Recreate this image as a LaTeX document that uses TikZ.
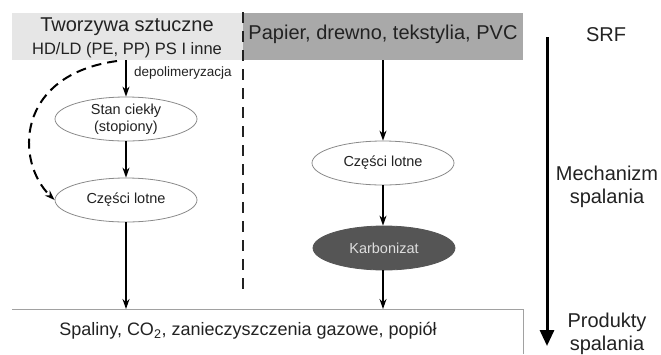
\documentclass[tikz,border=0pt]{standalone}
\usepackage{fontspec}
\setmainfont{Liberation Sans}
\usetikzlibrary{arrows.meta,calc,shapes.geometric}
\definecolor{txt}{HTML}{222222}
\definecolor{lightbox}{HTML}{E6E6E6}
\definecolor{darkbox}{HTML}{A9A9A9}
\definecolor{karb}{HTML}{555555}
\definecolor{edge}{HTML}{8A8A8A}
\tikzset{
  fs/.style={font={\fontsize{#1}{#1}\selectfont\setlength\baselineskip{1.15\baselineskip}}},
  ell/.style={ellipse, draw=edge, line width=0.8pt, fill=white, inner sep=0pt,
    minimum width=142, minimum height=44, text=txt, align=center, fs=14.5},
  flow/.style={line width=1.4pt, -{Stealth[length=10pt,width=7pt]}},
  lab/.style={text=txt, align=center, fs=20, inner sep=0pt},
}
\begin{document}
\begin{tikzpicture}[x=1pt,y=-1pt]
\useasboundingbox (0,0) rectangle (661,354);
% top boxes
\node[fill=lightbox, minimum width=231, minimum height=47, inner sep=0pt, anchor=north west] (lbox) at (12,13) {};
\node[fill=darkbox, minimum width=280, minimum height=47, inner sep=0pt, anchor=north west] (rbox) at (243,13) {};
\node[lab, fs=20] (t1) at (127,27) {Tworzywa sztuczne};
\node[lab, fs=16.5] (t2) at (127,50) {HD/LD (PE, PP) PS I inne};
\node[lab, fs=20] (t3) at (383,34) {Papier, drewno, tekstylia, PVC};
% separator
\coordinate (sepTop) at (243,12);
\coordinate (sepBot) at (243,290);
\draw[line width=2pt, dash pattern=on 11pt off 8pt, txt] (sepTop) -- (sepBot);
% bottom box
\node[minimum width=511, minimum height=45, inner sep=0pt, anchor=north west] (prod) at (12,309) {};
\draw[draw=edge!80, line width=0.8pt] (prod.north west) -- (prod.north east) -- (prod.south east);
\node[lab, fs=18] (ptext) at (248,331) {Spaliny, CO\textsubscript{2}, zanieczyszczenia gazowe, popiół};
% left column
\node[ell] (stan) at (126,119) {Stan ciekły\\(stopiony)};
\node[ell] (lotL) at (126,200) {Części lotne};
\draw[flow] (lbox.south -| stan) -- node[right, fs=13.5, text=txt, pos=0.35, xshift=4pt] (dep) {depolimeryzacja} (stan.north);
\draw[flow] (stan) -- (lotL);
\draw[flow] (lotL.south) -- (prod.north -| lotL);
\coordinate (dstart) at (117,61);
\draw[line width=2pt, dash pattern=on 10pt off 6pt, -{Stealth[length=10pt,width=7pt]}] (dstart) .. controls (15,75) and (15,162) .. (lotL.west);
% right column
\node[ell] (lotR) at (383,163) {Części lotne};
\node[ell, fill=karb, draw=karb, text=white!87!black] (karb) at (384,248) {Karbonizat};
\draw[flow] (rbox.south -| lotR) -- (lotR.north);
\draw[flow] (lotR.south) -- (karb.north -| lotR);
\draw[flow] (karb.south -| lotR) -- (prod.north -| lotR);
% right arrow and labels
\coordinate (aTop) at (547,37);
\coordinate (aBot) at (547,346);
\draw[line width=3pt, -{Triangle[length=16pt,width=14pt]}] (aTop) -- (aBot);
\node[lab] (srf) at (606,35) {SRF};
\node[lab] (mech) at (607,187) {Mechanizm\\spalania};
\node[lab] (prodl) at (607,334) {Produkty\\spalania};
\end{tikzpicture}
\end{document}
